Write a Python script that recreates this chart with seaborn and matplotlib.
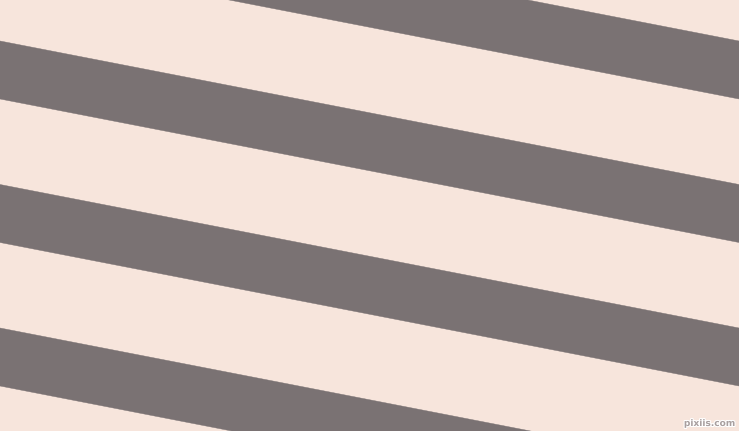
import numpy as np
import pandas as pd
import matplotlib
matplotlib.use("Agg")
import matplotlib.pyplot as plt
import matplotlib.patheffects as pe
import seaborn as sns

# Stripe data (pixel-space pattern of the reference)
stripe_starts = [-102.5, 41.0, 184.5, 328.0]   # upper edge of each band at left border
stripe_thickness = 58.0
stripe_drop = 143.5                               # vertical drop across full width
canvas_width = 739
canvas_height = 431
background_color = "#F7E5DC"
stripe_color = "#7A7273"

sns.set_theme(style="white")
plt.rcParams['font.family'] = ['DejaVu Sans']

fig = plt.figure(figsize=(7.3901, 4.3101), dpi=100)
fig.patch.set_facecolor(background_color)
ax = fig.add_axes([0, 0, 1, 1])
ax.set_facecolor(background_color)

x = np.array([0.0, canvas_width])
rows = []
for i, s in enumerate(stripe_starts):
    for xv in x:
        top = s + stripe_drop * xv / canvas_width
        rows.append({"band": i, "x": xv, "top": top, "bottom": top + stripe_thickness})
df = pd.DataFrame(rows)

for band, g in df.groupby("band"):
    ax.fill_between(g["x"], g["top"], g["bottom"], color=stripe_color, linewidth=0)
    sns.lineplot(data=g, x="x", y="top", ax=ax, color=stripe_color, linewidth=0.3, legend=False)
    sns.lineplot(data=g, x="x", y="bottom", ax=ax, color=stripe_color, linewidth=0.3, legend=False)

ax.set_xlim(0, canvas_width)
ax.set_ylim(canvas_height, 0)
ax.set_axis_off()

ax.text(735, 428, "pixiis.com", ha="right", va="bottom", fontsize=6.5,
        color="#A89F9F", fontweight="bold",
        path_effects=[pe.withStroke(linewidth=1.5, foreground="white")])

fig.savefig("out.png", dpi=100, facecolor=background_color)
